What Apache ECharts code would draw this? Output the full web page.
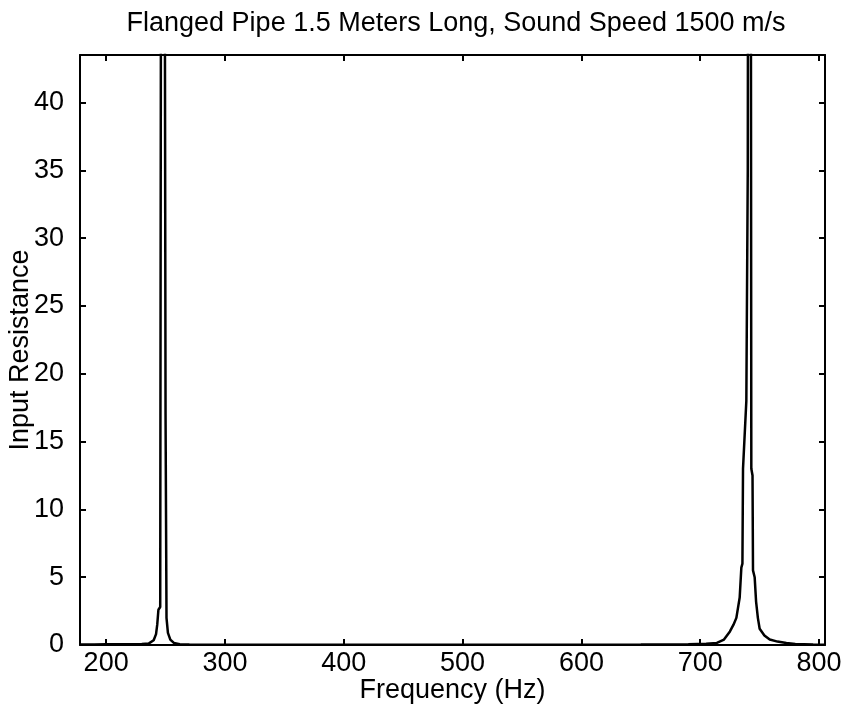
<!DOCTYPE html>
<html>
<head>
<meta charset="utf-8">
<script src="https://cdn.jsdelivr.net/npm/echarts@6/dist/echarts.min.js"></script>
<style>
html,body{margin:0;padding:0;background:#fff;}
#chart{width:846px;height:717px;}
</style>
</head>
<body>
<div id="chart"></div>
<script>
var titleText = 'Flanged Pipe 1.5 Meters Long, Sound Speed 1500 m/s';
var xName = 'Frequency (Hz)';
var yName = 'Input Resistance';
var xTicks = [200, 300, 400, 500, 600, 700, 800];
var yTicks = [0, 5, 10, 15, 20, 25, 30, 35, 40];

var freq = [178, 190, 200, 210, 220, 230, 236, 240, 242, 243, 244, 245.5, 247.5, 249, 250, 250.8, 252, 254, 257, 262, 270, 300, 400, 500, 600, 650, 690, 705, 714, 720, 725, 728, 730.4, 733.2, 734.6, 735.5, 736, 738.8, 740, 741.6, 742.5, 743, 744, 744.4, 745.8, 747, 748.5, 750, 754, 758.5, 765, 772.5, 780, 795, 805];
var resistance = [0.04, 0.04, 0.05, 0.05, 0.06, 0.08, 0.12, 0.35, 0.8, 1.5, 2.6, 2.8, 150, 150, 17, 2.0, 0.9, 0.4, 0.15, 0.06, 0.03, 0.02, 0.02, 0.02, 0.02, 0.03, 0.05, 0.1, 0.15, 0.4, 1.0, 1.5, 2.0, 3.5, 5.7, 6.0, 13, 18, 35, 150, 150, 13, 12.5, 5.5, 5.0, 3.2, 2.0, 1.2, 0.7, 0.4, 0.25, 0.15, 0.08, 0.03, 0.02];

var points = freq.map(function (f, i) { return [f, resistance[i]]; });

var fontFam = 'Liberation Sans, Arial, sans-serif';
var black = '#000';

function xAx(pos, showLabel) {
  return {
    type: 'value', position: pos, min: 178, max: 805,
    axisLine: { show: true, onZero: false, lineStyle: { color: black, width: 2 } },
    axisTick: { show: true, inside: true, length: 6, customValues: xTicks, lineStyle: { color: black, width: 2 } },
    axisLabel: { show: showLabel, customValues: xTicks, color: black, fontSize: 27, fontFamily: fontFam, margin: 5 },
    splitLine: { show: false },
    name: showLabel ? xName : '', nameLocation: 'middle', nameGap: 32, nameMoveOverlap: false,
    nameTextStyle: { color: black, fontSize: 27, fontFamily: fontFam }
  };
}
function yAx(pos, showLabel) {
  return {
    type: 'value', position: pos, min: 0, max: 43.5,
    axisLine: { show: true, onZero: false, lineStyle: { color: black, width: 2 } },
    axisTick: { show: true, inside: true, length: 6, customValues: yTicks, lineStyle: { color: black, width: 2 } },
    axisLabel: { show: showLabel, customValues: yTicks, color: black, fontSize: 27, fontFamily: fontFam, margin: 16 },
    splitLine: { show: false },
    name: showLabel ? yName : '', nameLocation: 'middle', nameGap: 46, nameRotate: 90, nameMoveOverlap: false,
    nameTextStyle: { color: black, fontSize: 27, fontFamily: fontFam }
  };
}

var chart = echarts.init(document.getElementById('chart'), null, { renderer: 'canvas' });
chart.setOption({
  animation: false,
  backgroundColor: '#fff',
  title: {
    text: titleText, left: 451, top: 5, textAlign: 'center',
    textStyle: { color: black, fontSize: 27, fontWeight: 'normal', fontFamily: fontFam }
  },
  grid: { left: 80, right: 21, top: 55, bottom: 72, containLabel: false, outerBoundsMode: 'none' },
  xAxis: [xAx('bottom', true), xAx('top', false)],
  yAxis: [yAx('left', true), yAx('right', false)],
  series: [{
    type: 'line', data: points, xAxisIndex: 0, yAxisIndex: 0,
    showSymbol: false, symbol: 'none', clip: true,
    lineStyle: { color: black, width: 2.5 }
  }]
});
</script>
</body>
</html>
